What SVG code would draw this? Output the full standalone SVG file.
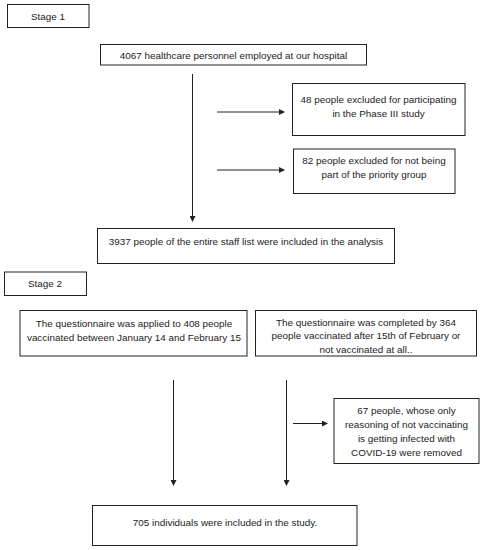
<svg xmlns="http://www.w3.org/2000/svg" width="485" height="550" viewBox="0 0 485 550">
<style>
.box{fill:#fff;stroke:#222;stroke-width:1}
.t{font-family:"Liberation Sans",Arial,sans-serif;font-size:9.9px;fill:#222;text-anchor:middle}
.ln{stroke:#222;stroke-width:1;fill:none}
</style>
<defs>
<marker id="ah" markerWidth="6" markerHeight="6" refX="5" refY="3" orient="auto" markerUnits="userSpaceOnUse">
<path d="M0,0 L6,3 L0,6 Z" fill="#222"/>
</marker>
</defs>
<rect width="485" height="550" fill="#fff"/>
<g id="stage1"><rect class="box" x="7.5" y="4.5" width="81.5" height="23"/><text class="t" x="48" y="19.5">Stage 1</text></g>
<g id="n4067"><rect class="box" x="100.5" y="44.5" width="266" height="20.5"/><text class="t" x="233.5" y="58.5">4067 healthcare personnel employed at our hospital</text></g>
<g id="n48"><rect class="box" x="292.5" y="83.5" width="172.5" height="52"/><text class="t" x="378.5" y="103">48 people excluded for participating</text><text class="t" x="378.5" y="117">in the Phase III study</text></g>
<g id="n82"><rect class="box" x="293.5" y="149" width="161.5" height="44.5"/><text class="t" x="374" y="163.5">82 people excluded for not being</text><text class="t" x="374" y="178">part of the priority group</text></g>
<g id="n3937"><rect class="box" x="97.5" y="228.5" width="297" height="35"/><text class="t" x="246" y="244.5">3937 people of the entire staff list were included in the analysis</text></g>
<g id="stage2"><rect class="box" x="4.5" y="272" width="82" height="23.5"/><text class="t" x="45" y="287">Stage 2</text></g>
<g id="q1"><rect class="box" x="20" y="310.5" width="227" height="45.5"/><text class="t" x="134" y="326.5">The questionnaire was applied to 408 people</text><text class="t" x="134" y="340.5">vaccinated between January 14 and February 15</text></g>
<g id="q2"><rect class="box" x="255.5" y="310.5" width="221" height="45.5"/><text class="t" x="366" y="325.5">The questionnaire was completed by 364</text><text class="t" x="366" y="338.5">people vaccinated after 15th of February or</text><text class="t" x="366" y="352.5">not vaccinated at all..</text></g>
<g id="n67"><rect class="box" x="334" y="398.5" width="145" height="65"/><text class="t" x="406.5" y="413.5">67 people, whose only</text><text class="t" x="406.5" y="428">reasoning of not vaccinating</text><text class="t" x="406.5" y="442">is getting infected with</text><text class="t" x="406.5" y="456">COVID-19 were removed</text></g>
<g id="n705"><rect class="box" x="92.5" y="505.5" width="264.5" height="40"/><text class="t" x="225" y="526">705 individuals were included in the study.</text></g>
<g id="connectors">
<line class="ln" x1="192.5" y1="74" x2="192.5" y2="221" marker-end="url(#ah)"/>
<line class="ln" x1="217" y1="112" x2="284" y2="112" marker-end="url(#ah)"/>
<line class="ln" x1="217" y1="170" x2="284" y2="170" marker-end="url(#ah)"/>
<line class="ln" x1="173.5" y1="380" x2="173.5" y2="485" marker-end="url(#ah)"/>
<line class="ln" x1="286.5" y1="380" x2="286.5" y2="485" marker-end="url(#ah)"/>
<line class="ln" x1="293" y1="423.5" x2="327" y2="423.5" marker-end="url(#ah)"/>
</g>
</svg>
